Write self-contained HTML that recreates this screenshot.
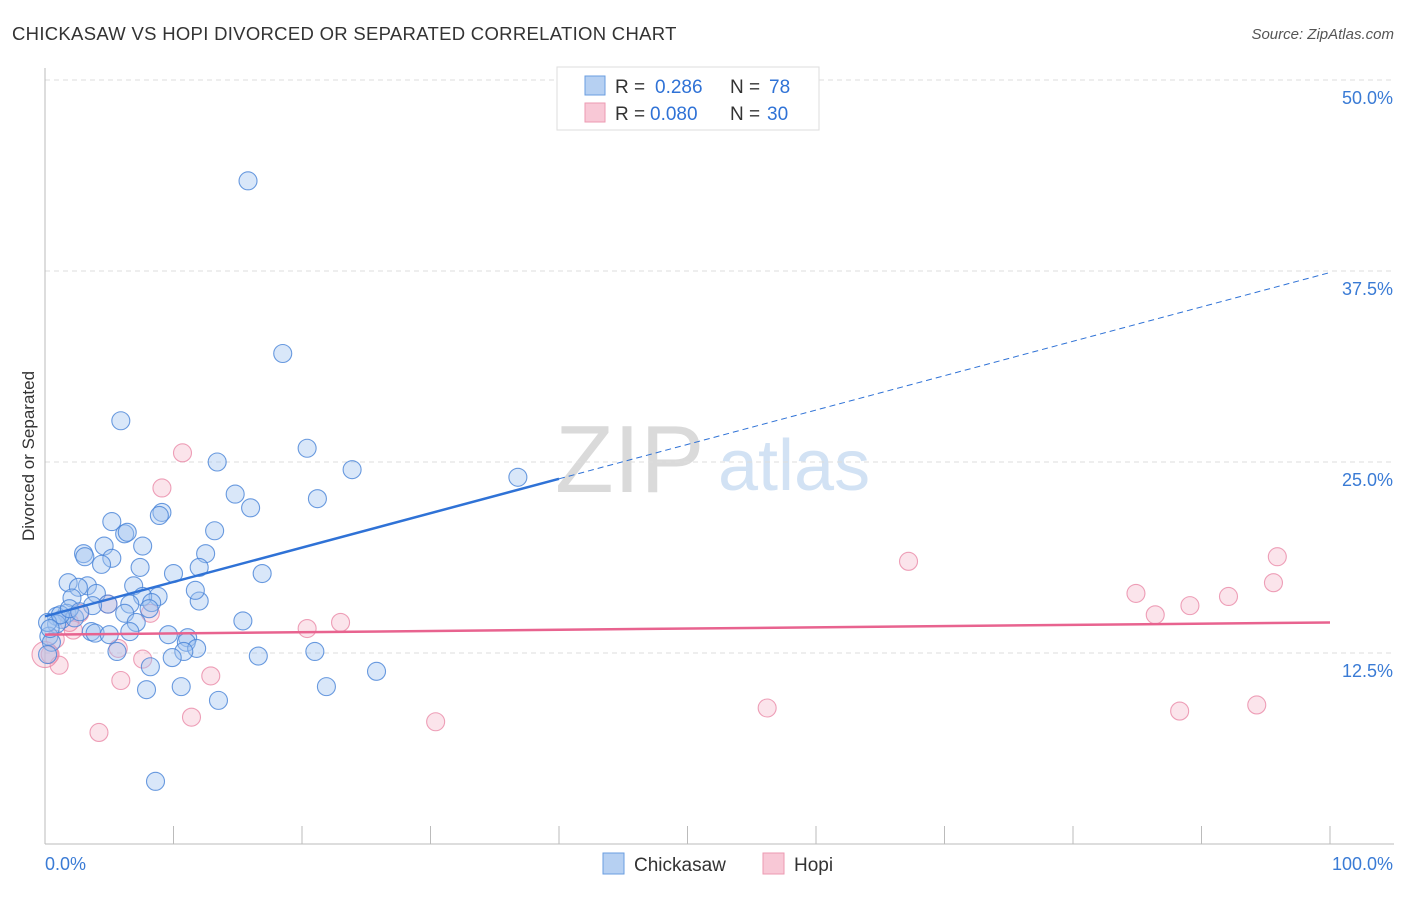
<!DOCTYPE html>
<html><head><meta charset="utf-8"><style>
body{margin:0;background:#fff;font-family:"Liberation Sans",sans-serif;}
svg text{font-family:"Liberation Sans",sans-serif;}
</style></head><body>
<svg width="1406" height="892" viewBox="0 0 1406 892" xmlns="http://www.w3.org/2000/svg">
<text x="12" y="40" font-size="18.5" letter-spacing="0.3" fill="#333">CHICKASAW VS HOPI DIVORCED OR SEPARATED CORRELATION CHART</text>
<text x="1394" y="39" font-size="15" fill="#555" font-style="italic" text-anchor="end">Source: ZipAtlas.com</text>
<text x="0" y="0" transform="translate(34,456) rotate(-90)" font-size="17" fill="#333" text-anchor="middle">Divorced or Separated</text>
<g>
<text x="555" y="492" font-size="96" font-family="Liberation Serif,serif" fill="#dadada">ZIP</text>
<text x="718" y="490" font-size="72" fill="#d2e2f4">atlas</text>
</g>
<g id="grid"></g><g id="axes"></g><g id="pts"></g><g id="trend"></g>
<g>
<rect x="557" y="67" width="262" height="63" fill="#fff" stroke="#ddd"/>
<rect x="585" y="76" width="20" height="19" fill="#b6d0f2" stroke="#6a9ee0"/>
<rect x="585" y="103" width="20" height="19" fill="#f8c8d6" stroke="#ec9ab2"/>
<text x="615" y="93" font-size="19" fill="#333">R = <tspan x="655" fill="#2f72d6">0.286</tspan></text>
<text x="730" y="93" font-size="19" fill="#333">N = <tspan x="769" fill="#2f72d6">78</tspan></text>
<text x="615" y="120" font-size="19" fill="#333">R = <tspan x="650" fill="#2f72d6">0.080</tspan></text>
<text x="730" y="120" font-size="19" fill="#333">N = <tspan x="767" fill="#2f72d6">30</tspan></text>
</g>
<g>
<rect x="603" y="853" width="21" height="21" fill="#b6d0f2" stroke="#6a9ee0"/>
<text x="634" y="871" font-size="19" fill="#333">Chickasaw</text>
<rect x="763" y="853" width="21" height="21" fill="#f8c8d6" stroke="#ec9ab2"/>
<text x="794" y="871" font-size="19" fill="#333">Hopi</text>
</g>
</svg>
<script>
const yTicks=[12.5,25,37.5,50];
const yTickLabels=["12.5%","25.0%","37.5%","50.0%"];
const xTickCount=10;
const xLabels=["0.0%","100.0%"];
const chickX=[15.8,18.5,5.9,20.4,13.4,23.9,36.8,14.8,21.2,16.0,9.1,8.9,5.2,6.2,6.4,13.2,7.6,4.6,3.0,3.1,12.5,5.2,4.4,7.4,12.0,16.9,10.0,1.8,3.3,6.9,2.6,4.0,8.8,2.1,7.6,4.9,6.6,3.7,8.3,12.0,11.7,8.1,6.2,1.7,0.9,1.3,2.3,15.4,7.1,0.9,3.6,3.9,5.0,6.6,9.6,11.1,11.0,0.3,0.5,11.8,10.8,5.6,9.9,21.0,16.6,0.2,8.2,25.8,10.6,21.9,7.9,13.5,8.6,0.2,1.2,1.9,0.4,2.7];
const chickY=[43.4,32.1,27.7,25.9,25.0,24.5,24.0,22.9,22.6,22.0,21.7,21.5,21.1,20.3,20.4,20.5,19.5,19.5,19.0,18.8,19.0,18.7,18.3,18.1,18.1,17.7,17.7,17.1,16.9,16.9,16.8,16.4,16.2,16.1,16.2,15.7,15.7,15.6,15.8,15.9,16.6,15.4,15.1,15.1,14.9,14.7,14.8,14.6,14.5,14.4,13.9,13.8,13.7,13.9,13.7,13.5,13.2,13.6,13.2,12.8,12.6,12.6,12.2,12.6,12.3,12.4,11.6,11.3,10.3,10.3,10.1,9.4,4.1,14.5,15.0,15.4,14.1,15.2];
const hopiX=[10.7,9.1,67.2,95.9,95.6,84.9,92.1,89.1,86.4,4.9,8.2,2.7,2.2,20.4,23.0,5.7,7.6,0.4,1.1,12.9,5.9,11.4,4.2,30.4,56.2,88.3,94.3,1.9,0.8,0.0];
const hopiY=[25.6,23.3,18.5,18.8,17.1,16.4,16.2,15.6,15.0,15.7,15.1,15.1,14.0,14.1,14.5,12.8,12.1,12.4,11.7,11.0,10.7,8.3,7.3,8.0,8.9,8.7,9.1,14.5,13.4,12.4];
const chickTrend=[14.9,37.4];
const hopiTrend=[13.7,14.5];
const solidEnd=40;
const NS="http://www.w3.org/2000/svg";
const X=v=>45+v*12.85;
const Y=v=>844-v*15.28;
function mk(tag,attrs,parent){const e=document.createElementNS(NS,tag);for(const k in attrs)e.setAttribute(k,attrs[k]);document.getElementById(parent).appendChild(e);return e;}
yTicks.forEach((t,i)=>{
 const l=mk('line',{x1:45,x2:1394,y1:Y(t),y2:Y(t),stroke:'#ddd','stroke-dasharray':'5,4'},'grid');
 
 
 const tx=mk('text',{x:1393,y:Y(t)+24,'font-size':18,fill:'#3a7bd5','text-anchor':'end'},'grid');
 tx.textContent=yTickLabels[i];
 
 
});
const ax=mk('line',{x1:45,x2:45,y1:68,y2:844,stroke:'#bbb'},'axes');


const bx=mk('line',{x1:45,x2:1394,y1:844,y2:844,stroke:'#bbb'},'axes');


for(let i=0;i<=xTickCount;i++){
 const t=mk('line',{x1:X(i*10),x2:X(i*10),y1:826,y2:844,stroke:'#bbb'},'axes');
 
 
}
const xl0=mk('text',{x:45,y:870,'font-size':18,fill:'#3a7bd5'},'axes');
xl0.textContent=xLabels[0];


const xl1=mk('text',{x:1393,y:870,'font-size':18,fill:'#3a7bd5','text-anchor':'end'},'axes');
xl1.textContent=xLabels[1];


hopiX.forEach((v,i)=>{
 const c=mk('circle',{cx:X(v),cy:Y(hopiY[i]),r:(i===hopiX.length-1?13:9),fill:'rgba(244,170,192,0.32)',stroke:'rgba(232,130,162,0.75)','stroke-width':1.1},'pts');
 
 
});
chickX.forEach((v,i)=>{
 const c=mk('circle',{cx:X(v),cy:Y(chickY[i]),r:9,fill:'rgba(160,195,240,0.4)',stroke:'rgba(70,130,215,0.8)','stroke-width':1.1},'pts');
 
 
});
const ty=x=>chickTrend[0]+(chickTrend[1]-chickTrend[0])*x/100;
const l1=mk('line',{x1:X(0),y1:Y(ty(0)),x2:X(solidEnd),y2:Y(ty(solidEnd)),stroke:'#2f72d6','stroke-width':2.5},'trend');


const l2=mk('line',{x1:X(solidEnd),y1:Y(ty(solidEnd)),x2:X(100),y2:Y(ty(100)),stroke:'#2f72d6','stroke-width':1,'stroke-dasharray':'6,4'},'trend');


const l3=mk('line',{x1:X(0),y1:Y(hopiTrend[0]),x2:X(100),y2:Y(hopiTrend[1]),stroke:'#e8638f','stroke-width':2.5},'trend');


</script>
</body></html>
